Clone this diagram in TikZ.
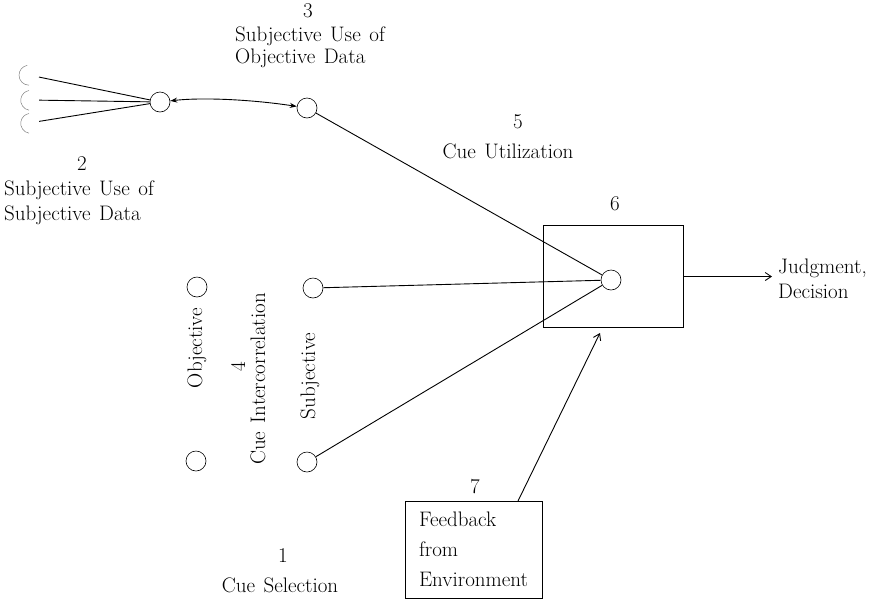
\documentclass[tikz,border=0pt]{standalone}
\usepackage{fontspec}
\setmainfont{Latin Modern Roman}[WordSpace={1.35}]
\usetikzlibrary{arrows.meta}
\newcommand\lbfont{\fontsize{21}{22}\selectfont}
\newcommand\lbfontb{\fontsize{21}{25}\selectfont}
\newcommand\fbfont{\fontsize{21}{30}\selectfont}
\tikzset{
  cue/.style={circle, draw, line width=0.6pt, minimum size=20pt, inner sep=0pt},
  ghost/.style={circle, minimum size=20pt, inner sep=0pt},
  lbl/.style={inner sep=0pt, font=\lbfont},
  lblb/.style={inner sep=0pt, font=\lbfontb},
  conn/.style={line width=0.9pt},
  frame/.style={draw, line width=1pt, inner sep=0pt},
}
\begin{document}
\begin{tikzpicture}[x=1pt,y=1pt]
\useasboundingbox (0,0) rectangle (878,-603);
% cue circles
\node[ghost] (L1) at (29,-75) {};
\node[ghost] (L2) at (29,-100) {};
\node[ghost] (L3) at (29,-123) {};
\draw[gray, line width=0.5pt] (L1.south) arc[start angle=270, end angle=100, radius=10pt];
\draw[gray, line width=0.5pt] (L2.south) arc[start angle=260, end angle=100, radius=10pt];
\draw[gray, line width=0.5pt] (L3.south) arc[start angle=260, end angle=100, radius=10pt];
\node[cue] (A) at (160,-102) {};
\node[cue] (B) at (307,-108) {};
\node[cue] (C) at (611,-280) {};
\node[cue] (Ou) at (197,-287) {};
\node[cue] (Ol) at (196,-461) {};
\node[cue] (Su) at (313,-288) {};
\node[cue] (Sl) at (307,-462) {};
% boxes
\node[frame, minimum width=140pt, minimum height=102pt] (box6) at (613,-276.5) {};
\node[frame, minimum width=137pt, minimum height=97pt, align=left, font=\fbfont] (fb) at (473.5,-549.5) {Feedback\\from\\Environment};
% labels
\node[lbl] (n3) at (308,-11) {3};
\node[lbl, align=left, anchor=north west] (t3) at (235,-27) {Subjective Use of\\Objective Data};
\node[lbl] (n2) at (82,-164) {2};
\node[lblb, align=left, anchor=north west] (t2) at (4,-181) {Subjective Use of\\Subjective Data};
\node[lbl] (n5) at (518,-122) {5};
\node[lbl] (t5) at (508,-151) {Cue Utilization};
\node[lbl] (n6) at (615,-204) {6};
\node[lbl, rotate=90] (tobj) at (197,-348) {Objective};
\node[lbl, rotate=90] (n4) at (238,-367) {4};
\node[lbl, rotate=90] (t4) at (258,-379) {Cue Intercorrelation};
\node[lbl, rotate=90] (tsubj) at (310,-376) {Subjective};
\node[lbl] (n7) at (475,-487) {7};
\node[lbl] (n1) at (283,-556) {1};
\node[lbl] (t1) at (280,-585) {Cue Selection};
\node[lblb, align=left, anchor=north west] (judg) at (778,-258.5) {Judgment,\\Decision};
% connectors
\draw[conn] (L1) -- (A);
\draw[conn] (L2) -- (A);
\draw[conn] (L3) -- (A);
\draw[conn, {Stealth[length=7pt,width=5pt]}-{Stealth[length=7pt,width=5pt]}] (A) .. controls (205,-97) and (255,-100) .. (B);
\draw[conn] (B) -- (C);
\draw[conn] (Su) -- (C);
\draw[conn] (Sl) -- (C);
\draw[conn, -{Straight Barb[length=6pt,width=8pt]}, shorten >=6pt] (box6.east) -- (box6.east -| judg.west);
\coordinate (fbout) at (518,-501);
\coordinate (fbin) at (600,-333);
\draw[conn, -{Straight Barb[length=6pt,width=8pt]}] (fbout) -- (fbin);
\end{tikzpicture}
\end{document}
